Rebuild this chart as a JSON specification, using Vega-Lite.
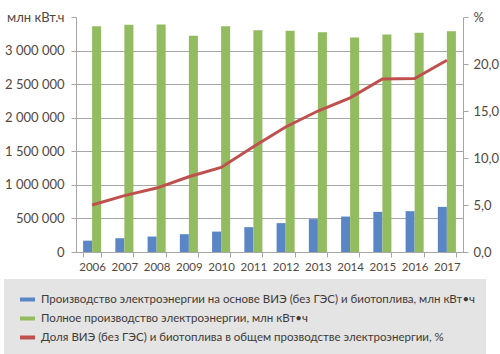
{
  "$schema": "https://vega.github.io/schema/vega-lite/v6.json",
  "width": 387,
  "height": 235,
  "autosize": {"type": "none"},
  "padding": {"left": 76, "top": 17, "right": 37, "bottom": 102},
  "background": "white",
  "config": {
    "font": "Lato",
    "locale": {"number": {"decimal": ",", "thousands": " ", "grouping": [3], "currency": ["", ""]}},
    "view": {"stroke": null},
    "axis": {
      "domainColor": "#a6a6a6",
      "tickColor": "#a6a6a6",
      "gridColor": "#a6a6a6",
      "labelColor": "#52483f",
      "labelFont": "Lato",
      "title": null,
      "tickSize": 5
    }
  },
  "data": {
    "values": [
      {"year": "2006", "kind": "bar", "series": "Производство электроэнергии на основе ВИЭ (без ГЭС) и биотоплива, млн кВт•ч", "value": 169000},
      {"year": "2007", "kind": "bar", "series": "Производство электроэнергии на основе ВИЭ (без ГЭС) и биотоплива, млн кВт•ч", "value": 205000},
      {"year": "2008", "kind": "bar", "series": "Производство электроэнергии на основе ВИЭ (без ГЭС) и биотоплива, млн кВт•ч", "value": 230000},
      {"year": "2009", "kind": "bar", "series": "Производство электроэнергии на основе ВИЭ (без ГЭС) и биотоплива, млн кВт•ч", "value": 265000},
      {"year": "2010", "kind": "bar", "series": "Производство электроэнергии на основе ВИЭ (без ГЭС) и биотоплива, млн кВт•ч", "value": 304000},
      {"year": "2011", "kind": "bar", "series": "Производство электроэнергии на основе ВИЭ (без ГЭС) и биотоплива, млн кВт•ч", "value": 370000},
      {"year": "2012", "kind": "bar", "series": "Производство электроэнергии на основе ВИЭ (без ГЭС) и биотоплива, млн кВт•ч", "value": 430000},
      {"year": "2013", "kind": "bar", "series": "Производство электроэнергии на основе ВИЭ (без ГЭС) и биотоплива, млн кВт•ч", "value": 490000},
      {"year": "2014", "kind": "bar", "series": "Производство электроэнергии на основе ВИЭ (без ГЭС) и биотоплива, млн кВт•ч", "value": 528000},
      {"year": "2015", "kind": "bar", "series": "Производство электроэнергии на основе ВИЭ (без ГЭС) и биотоплива, млн кВт•ч", "value": 598000},
      {"year": "2016", "kind": "bar", "series": "Производство электроэнергии на основе ВИЭ (без ГЭС) и биотоплива, млн кВт•ч", "value": 608000},
      {"year": "2017", "kind": "bar", "series": "Производство электроэнергии на основе ВИЭ (без ГЭС) и биотоплива, млн кВт•ч", "value": 672000},
      {"year": "2006", "kind": "bar", "series": "Полное производство электроэнергии, млн кВт•ч", "value": 3362000},
      {"year": "2007", "kind": "bar", "series": "Полное производство электроэнергии, млн кВт•ч", "value": 3384000},
      {"year": "2008", "kind": "bar", "series": "Полное производство электроэнергии, млн кВт•ч", "value": 3388000},
      {"year": "2009", "kind": "bar", "series": "Полное производство электроэнергии, млн кВт•ч", "value": 3219000},
      {"year": "2010", "kind": "bar", "series": "Полное производство электроэнергии, млн кВт•ч", "value": 3362000},
      {"year": "2011", "kind": "bar", "series": "Полное производство электроэнергии, млн кВт•ч", "value": 3303000},
      {"year": "2012", "kind": "bar", "series": "Полное производство электроэнергии, млн кВт•ч", "value": 3294000},
      {"year": "2013", "kind": "bar", "series": "Полное производство электроэнергии, млн кВт•ч", "value": 3273000},
      {"year": "2014", "kind": "bar", "series": "Полное производство электроэнергии, млн кВт•ч", "value": 3194000},
      {"year": "2015", "kind": "bar", "series": "Полное производство электроэнергии, млн кВт•ч", "value": 3239000},
      {"year": "2016", "kind": "bar", "series": "Полное производство электроэнергии, млн кВт•ч", "value": 3264000},
      {"year": "2017", "kind": "bar", "series": "Полное производство электроэнергии, млн кВт•ч", "value": 3288000},
      {"year": "2006", "kind": "line", "series": "Доля ВИЭ (без ГЭС) и биотоплива в общем прозводстве электроэнергии, %", "value": 5.0},
      {"year": "2007", "kind": "line", "series": "Доля ВИЭ (без ГЭС) и биотоплива в общем прозводстве электроэнергии, %", "value": 6.0},
      {"year": "2008", "kind": "line", "series": "Доля ВИЭ (без ГЭС) и биотоплива в общем прозводстве электроэнергии, %", "value": 6.8},
      {"year": "2009", "kind": "line", "series": "Доля ВИЭ (без ГЭС) и биотоплива в общем прозводстве электроэнергии, %", "value": 8.0},
      {"year": "2010", "kind": "line", "series": "Доля ВИЭ (без ГЭС) и биотоплива в общем прозводстве электроэнергии, %", "value": 9.0},
      {"year": "2011", "kind": "line", "series": "Доля ВИЭ (без ГЭС) и биотоплива в общем прозводстве электроэнергии, %", "value": 11.2},
      {"year": "2012", "kind": "line", "series": "Доля ВИЭ (без ГЭС) и биотоплива в общем прозводстве электроэнергии, %", "value": 13.3},
      {"year": "2013", "kind": "line", "series": "Доля ВИЭ (без ГЭС) и биотоплива в общем прозводстве электроэнергии, %", "value": 15.0},
      {"year": "2014", "kind": "line", "series": "Доля ВИЭ (без ГЭС) и биотоплива в общем прозводстве электроэнергии, %", "value": 16.4},
      {"year": "2015", "kind": "line", "series": "Доля ВИЭ (без ГЭС) и биотоплива в общем прозводстве электроэнергии, %", "value": 18.4},
      {"year": "2016", "kind": "line", "series": "Доля ВИЭ (без ГЭС) и биотоплива в общем прозводстве электроэнергии, %", "value": 18.45},
      {"year": "2017", "kind": "line", "series": "Доля ВИЭ (без ГЭС) и биотоплива в общем прозводстве электроэнергии, %", "value": 20.4}
    ]
  },
  "layer": [
    {
      "transform": [{"filter": "datum.kind == 'bar'"}],
      "mark": {"type": "bar"},
      "encoding": {
        "x": {
          "field": "year", "type": "ordinal",
          "scale": {"paddingInner": 0.44, "paddingOuter": 0.22},
          "axis": {"labelAngle": 0, "labelFontSize": 11.5, "tickBand": "extent", "labelPadding": 4, "grid": false}
        },
        "xOffset": {
          "field": "series", "type": "nominal",
          "sort": ["Производство электроэнергии на основе ВИЭ (без ГЭС) и биотоплива, млн кВт•ч", "Полное производство электроэнергии, млн кВт•ч"]
        },
        "y": {
          "field": "value", "type": "quantitative",
          "scale": {"domain": [0, 3500000], "nice": false},
          "axis": {
            "values": [0, 500000, 1000000, 1500000, 2000000, 2500000, 3000000, 3500000],
            "format": ",.0f",
            "labelExpr": "datum.value == 3500000 ? 'млн кВт.ч' : datum.label",
            "labelFontSize": 13,
            "labelPadding": 7,
            "grid": true,
            "gridOpacity": {"condition": {"test": "datum.value == 3500000", "value": 0}, "value": 1}
          }
        },
        "color": {
          "field": "series", "type": "nominal",
          "scale": {
            "domain": [
              "Производство электроэнергии на основе ВИЭ (без ГЭС) и биотоплива, млн кВт•ч",
              "Полное производство электроэнергии, млн кВт•ч",
              "Доля ВИЭ (без ГЭС) и биотоплива в общем прозводстве электроэнергии, %"
            ],
            "range": ["#5a86c6", "#93bb5f", "#c0504d"]
          },
          "legend": {
            "orient": "none",
            "legendX": -72,
            "legendY": 262,
            "direction": "vertical",
            "title": null,
            "fillColor": "#e4e4e4",
            "padding": 11,
            "labelFont": "Lato",
            "labelFontSize": 11.5,
            "labelColor": "#3f3a36",
            "labelLimit": 0,
            "symbolType": "stroke",
            "symbolStrokeWidth": 4,
            "symbolSize": 225,
            "symbolOffset": 3,
            "rowPadding": 1,
            "encode": {"symbols": {"update": {"stroke": {"scale": "color", "field": "value"}, "strokeWidth": {"value": 4}}}}
          }
        }
      }
    },
    {
      "transform": [{"filter": "datum.kind == 'line'"}],
      "mark": {"type": "line", "strokeWidth": 3},
      "encoding": {
        "x": {"field": "year", "type": "ordinal"},
        "y": {
          "field": "value", "type": "quantitative",
          "scale": {"domain": [0, 25], "nice": false},
          "axis": {
            "orient": "right",
            "values": [0, 5, 10, 15, 20, 25],
            "format": ".1f",
            "labelExpr": "datum.value == 25 ? '%' : datum.label",
            "labelFontSize": 13,
            "labelPadding": 5,
            "grid": false
          }
        },
        "color": {"field": "series", "type": "nominal"}
      }
    }
  ],
  "resolve": {"scale": {"y": "independent"}}
}
